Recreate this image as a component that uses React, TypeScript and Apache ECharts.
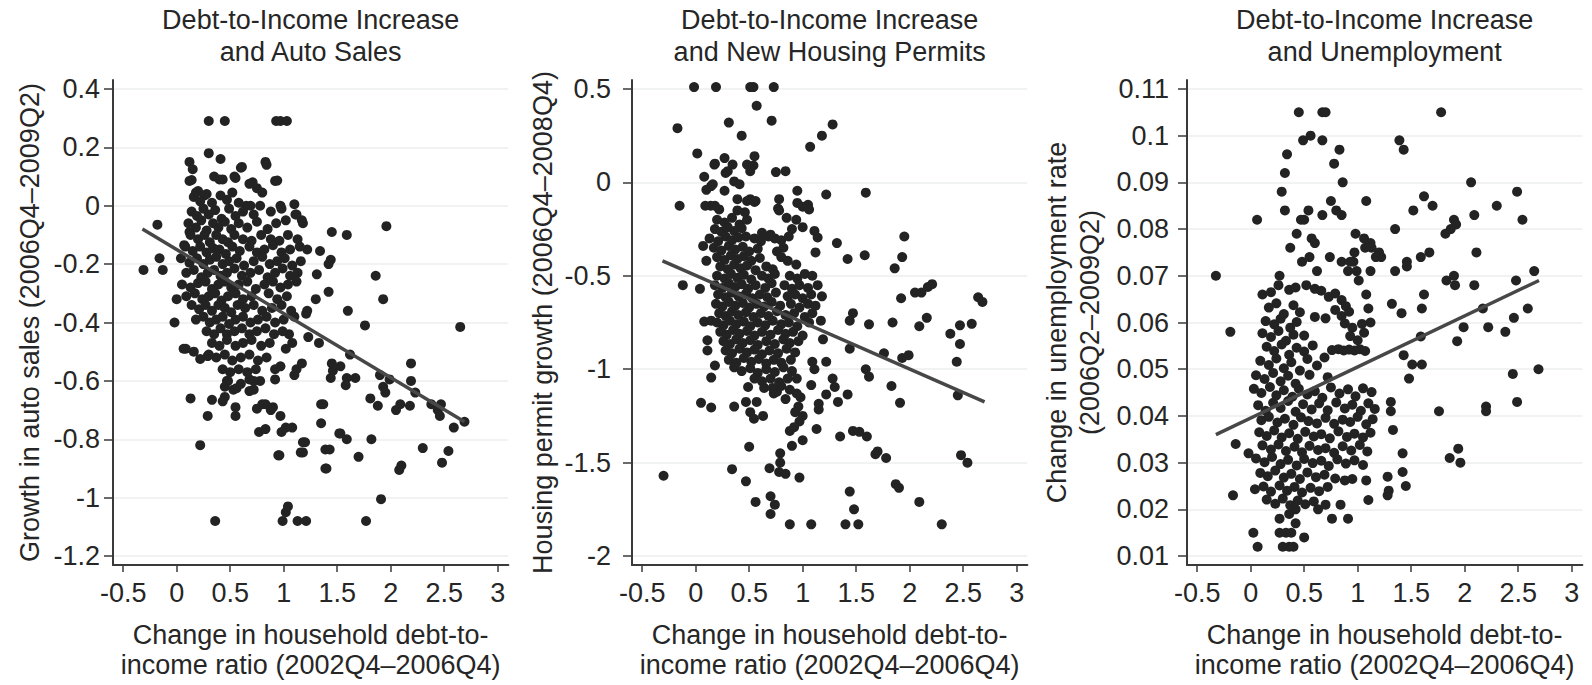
import React, { useEffect, useRef } from "react";
import * as echarts from "echarts";

// ---------- DATA ----------
const xTicks = [-0.5, 0, 0.5, 1, 1.5, 2, 2.5, 3];
const autoSalesYTicks = [-1.2, -1, -0.8, -0.6, -0.4, -0.2, 0, 0.2, 0.4];
const housingYTicks = [-2, -1.5, -1, -0.5, 0, 0.5];
const unempYTicks = [0.01, 0.02, 0.03, 0.04, 0.05, 0.06, 0.07, 0.08, 0.09, 0.1, 0.11];

const titles = [
  "Debt-to-Income Increase\nand Auto Sales",
  "Debt-to-Income Increase\nand New Housing Permits",
  "Debt-to-Income Increase\nand Unemployment",
];
const xName = "Change in household debt-to-\nincome ratio (2002Q4–2006Q4)";
const yNames = [
  "Growth in auto sales (2006Q4–2009Q2)",
  "Housing permit growth (2006Q4–2008Q4)",
  "Change in unemployment rate\n(2006Q2–2009Q2)",
];

// fitted regression lines (endpoints)
const autoSalesFit = [[-0.32, -0.08], [2.69, -0.74]];
const housingFit = [[-0.31, -0.42], [2.7, -1.175]];
const unempFit = [[-0.325, 0.036], [2.695, 0.069]];

const autoSalesPoints = [
  [-0.31,-0.22],[-0.18,-0.065],[-0.16,-0.18],[-0.13,-0.22],[0.0,-0.32],[-0.02,-0.40],[0.065,-0.49],[0.13,-0.66],[0.22,-0.82],[0.36,-1.08],
  [0.30,0.29],[0.45,0.29],[0.93,0.29],[0.97,0.29],[1.03,0.29],
  [0.30,0.18],[0.41,0.16],[0.60,0.13],[0.83,0.15],[0.84,0.14],[0.92,0.085],
  [0.12,0.15],[0.15,0.125],[0.12,0.085],[0.54,0.10],[0.35,0.10],[0.40,0.09],[0.68,0.075],[0.75,0.06],[0.80,0.045],[0.18,0.045],[0.26,0.035],
  [0.65,0.0],[0.78,0.0],[0.97,0.0],[1.10,0.005],[1.11,-0.03],[1.17,-0.05],
  [1.45,-0.09],[1.59,-0.10],[1.96,-0.07],
  [1.22,-0.15],[1.34,-0.155],[1.44,-0.185],[1.42,-0.20],[1.31,-0.235],[1.42,-0.295],[1.30,-0.32],[1.86,-0.24],[1.93,-0.32],[1.60,-0.36],[1.76,-0.41],[2.65,-0.415],
  [1.21,-0.37],[1.23,-0.45],[1.33,-0.47],[1.62,-0.51],[1.45,-0.54],[1.53,-0.55],[1.46,-0.565],[1.44,-0.59],[1.59,-0.59],[1.67,-0.59],[1.58,-0.615],
  [1.90,-0.58],[1.93,-0.62],[1.95,-0.64],[1.99,-0.595],[2.19,-0.54],[2.19,-0.60],[2.23,-0.64],[2.09,-0.68],[2.18,-0.685],[2.05,-0.70],[1.81,-0.66],[1.88,-0.685],
  [2.38,-0.68],[2.47,-0.68],[2.46,-0.72],[2.44,-0.70],[2.59,-0.76],[2.69,-0.74],[2.30,-0.83],[2.54,-0.84],[2.48,-0.88],[2.08,-0.905],[2.10,-0.89],[1.91,-1.005],[1.77,-1.08],
  [1.82,-0.80],[1.70,-0.86],[1.52,-0.78],[1.59,-0.80],[1.35,-0.68],[1.35,-0.745],[1.39,-0.835],[1.39,-0.90],[1.18,-0.81],[1.16,-0.845],[1.02,-0.76],[1.08,-0.76],[0.95,-0.855],
  [1.02,-1.05],[0.99,-1.08],[1.13,-1.08],[1.21,-1.08],
  [0.90,-0.69],[0.97,-0.72],[0.83,-0.68],[0.75,-0.695],[0.77,-0.775],[0.83,-0.765],[0.55,-0.69],[0.55,-0.72],[0.33,-0.665],[0.29,-0.72],[0.45,-0.655],[0.43,-0.67],[0.53,-0.63],[0.68,-0.635],[0.72,-0.63],[0.68,-0.595],[0.78,-0.60],
  [1.10,-0.58],[1.12,-0.56],[1.17,-0.54],[0.92,-0.595],[0.92,-0.56],[0.97,-0.55],[1.02,-0.49],[1.05,-0.44],[1.08,-0.47],
  [0.085,-0.49],[0.16,-0.50],[0.22,-0.525],[0.29,-0.515],[0.45,-0.62],[0.47,-0.60],[0.56,-0.625],[0.72,-0.60],[0.80,-0.68],[0.88,-0.70],[0.98,-0.775],[1.20,-0.81],[1.18,-0.845],[0.96,-0.855],[1.37,-0.68],[1.53,-0.78],[1.43,-0.835],[1.40,-0.90],[1.04,-1.03],
  [0.14,0.088],[0.61,0.133],[0.94,0.086],[0.43,0.09],[0.55,0.095],[0.71,0.08],[0.20,0.05],[0.69,0.0],[0.98,-0.01],[1.12,-0.03],[1.18,-0.06],[0.12,-0.09],[0.07,-0.135],[1.22,-0.36],
  [0.16,0.03],[0.22,0.015],[0.28,0.04],[0.33,0.01],[0.41,0.035],[0.47,0.02],[0.52,0.045],[0.58,0.01],
  [0.14,-0.02],[0.19,-0.035],[0.25,-0.01],[0.30,-0.03],[0.36,-0.015],[0.42,-0.045],[0.49,-0.01],[0.55,-0.035],[0.62,-0.02],[0.72,-0.03],[0.88,-0.02],
  [0.11,-0.06],[0.18,-0.075],[0.23,-0.05],[0.28,-0.085],[0.34,-0.06],[0.39,-0.075],[0.45,-0.055],[0.51,-0.08],[0.58,-0.06],[0.66,-0.075],[0.75,-0.055],[0.85,-0.08],[0.93,-0.06],[1.02,-0.05],
  [0.13,-0.10],[0.20,-0.115],[0.26,-0.10],[0.31,-0.125],[0.37,-0.10],[0.43,-0.115],[0.48,-0.125],[0.54,-0.10],[0.62,-0.115],[0.70,-0.12],[0.79,-0.10],[0.88,-0.115],[0.96,-0.12],[1.04,-0.10],[1.13,-0.115],
  [0.08,-0.14],[0.15,-0.155],[0.22,-0.14],[0.28,-0.16],[0.34,-0.145],[0.40,-0.15],[0.46,-0.165],[0.52,-0.14],[0.59,-0.155],[0.68,-0.14],[0.75,-0.16],[0.82,-0.15],[0.90,-0.135],[0.98,-0.16],[1.06,-0.15],[1.15,-0.14],
  [0.04,-0.18],[0.12,-0.195],[0.19,-0.18],[0.25,-0.20],[0.31,-0.185],[0.37,-0.175],[0.43,-0.20],[0.49,-0.19],[0.56,-0.18],[0.63,-0.205],[0.72,-0.19],[0.80,-0.175],[0.87,-0.20],[0.94,-0.19],[1.01,-0.18],[1.08,-0.205],[1.16,-0.19],
  [0.09,-0.23],[0.16,-0.22],[0.23,-0.245],[0.29,-0.23],[0.35,-0.22],[0.41,-0.24],[0.47,-0.23],[0.54,-0.215],[0.61,-0.24],[0.69,-0.23],[0.77,-0.22],[0.85,-0.245],[0.92,-0.23],[0.99,-0.215],[1.06,-0.24],[1.13,-0.23],
  [0.05,-0.27],[0.13,-0.28],[0.20,-0.265],[0.27,-0.26],[0.33,-0.285],[0.39,-0.27],[0.45,-0.26],[0.51,-0.28],[0.58,-0.27],[0.66,-0.26],[0.74,-0.285],[0.82,-0.27],[0.90,-0.26],[0.97,-0.28],[1.04,-0.27],[1.12,-0.26],
  [0.09,-0.31],[0.17,-0.30],[0.24,-0.32],[0.30,-0.31],[0.36,-0.30],[0.42,-0.325],[0.48,-0.31],[0.55,-0.30],[0.62,-0.32],[0.70,-0.31],[0.86,-0.30],[0.94,-0.32],[1.03,-0.31],
  [0.14,-0.34],[0.21,-0.355],[0.27,-0.34],[0.33,-0.36],[0.39,-0.34],[0.45,-0.35],[0.51,-0.365],[0.57,-0.34],[0.64,-0.35],[0.72,-0.34],[0.80,-0.36],[0.89,-0.35],[0.98,-0.34],[1.07,-0.36],
  [0.18,-0.39],[0.25,-0.38],[0.31,-0.40],[0.37,-0.39],[0.43,-0.38],[0.49,-0.405],[0.55,-0.39],[0.62,-0.38],[0.69,-0.40],[0.76,-0.39],[0.84,-0.38],[0.92,-0.40],[1.00,-0.39],[1.10,-0.38],
  [0.28,-0.43],[0.35,-0.44],[0.41,-0.42],[0.47,-0.44],[0.54,-0.43],[0.61,-0.42],[0.68,-0.44],[0.75,-0.43],[0.83,-0.42],[0.91,-0.44],[0.99,-0.43],
  [0.33,-0.47],[0.40,-0.48],[0.47,-0.46],[0.55,-0.48],[0.62,-0.47],[0.70,-0.46],[0.79,-0.48],[0.87,-0.47],
  [0.30,-0.51],[0.37,-0.52],[0.45,-0.51],[0.52,-0.53],[0.60,-0.52],[0.68,-0.51],[0.76,-0.53],[0.84,-0.52],
  [0.43,-0.56],[0.50,-0.57],[0.58,-0.56],[0.66,-0.57],[0.74,-0.56],
  [0.48,-0.60],[0.60,-0.61],
];

const housingPoints = [
  [-0.015,0.51],[0.19,0.51],[0.51,0.51],[0.54,0.51],[0.73,0.51],[0.57,0.41],[-0.17,0.29],[0.31,0.32],[0.71,0.33],[1.28,0.31],[1.18,0.25],[1.07,0.19],[0.43,0.25],[0.015,0.155],[0.27,0.13],[0.175,0.095],[0.345,0.095],[0.55,0.14],[0.48,0.095],[0.54,0.09],[0.75,0.055],[0.84,0.06],[0.08,0.03],[0.28,0.05],[0.36,0.005],[0.41,-0.01],[0.145,-0.02],[0.10,-0.04],[0.27,-0.045],[-0.15,-0.125],[0.14,-0.125],[0.22,-0.145],[0.39,-0.09],[0.48,-0.10],[0.55,-0.105],[0.39,-0.15],[0.46,-0.16],
  [0.18,0.10],[0.30,0.06],[0.51,0.06],[0.16,-0.01],[0.09,-0.125],[0.18,-0.125],[0.51,-0.09],[0.56,-0.10],[0.77,-0.14],[1.0,-0.13],
  [0.95,-0.045],[1.22,-0.065],[1.59,-0.055],[0.78,-0.09],[0.78,-0.15],[0.95,-0.11],[1.05,-0.12],[1.06,-0.145],[0.85,-0.19],[0.94,-0.20],[1.0,-0.24],[1.11,-0.26],[1.14,-0.295],[1.32,-0.325],[1.42,-0.41],[1.58,-0.39],[1.12,-0.375],
  [1.95,-0.29],[1.93,-0.40],[1.86,-0.46],[1.92,-0.62],[2.05,-0.59],[2.11,-0.59],[2.17,-0.56],[2.21,-0.545],[2.64,-0.615],[2.68,-0.64],[2.16,-0.725],[2.09,-0.77],[1.84,-0.75],[1.62,-0.76],[1.44,-0.74],[1.47,-0.70],[1.44,-0.89],[1.76,-0.915],[1.93,-0.94],[1.99,-0.925],[1.59,-1.0],[1.62,-1.04],[1.83,-1.09],[1.91,-1.18],
  [2.38,-0.81],[2.47,-0.765],[2.58,-0.757],[2.47,-0.865],[2.44,-0.96],[2.45,-1.14],[2.48,-1.46],[2.54,-1.50],[2.30,-1.83],[2.09,-1.71],[1.87,-1.615],[1.90,-1.635],[1.68,-1.455],[1.78,-1.475],[1.70,-1.44],[1.53,-1.335],[1.60,-1.36],[1.47,-1.33],[1.35,-1.36],[1.44,-1.655],[1.48,-1.75],[1.40,-1.83],[1.52,-1.83],[1.08,-1.83],[0.88,-1.83],[0.97,-1.58],[0.84,-1.56],[0.78,-1.55],[0.79,-1.45],[0.79,-1.50],[0.69,-1.53],[0.70,-1.68],[0.74,-1.725],[0.70,-1.775],[0.56,-1.71],[0.47,-1.60],[0.34,-1.535],[0.50,-1.415],[-0.30,-1.57],
  [-0.12,-0.55],[0.04,-0.57],[0.07,-0.34],[0.10,-0.42],[0.08,-0.745],[0.145,-0.74],[0.11,-0.845],[0.11,-0.90],[0.18,-0.98],[0.145,-1.045],[0.05,-1.18],[0.145,-1.205],[0.36,-1.2],[0.47,-1.175],[0.57,-1.175],[0.49,-1.095],[0.51,-1.23],[0.545,-1.265],[0.63,-1.25],[0.64,-1.10],[0.76,-1.12],[0.84,-1.16],[0.73,-1.13],
  [0.98,-1.15],[0.96,-1.2],[0.93,-1.23],[1.0,-1.25],[0.97,-1.28],[0.88,-1.33],[0.92,-1.31],[0.90,-1.41],[1.0,-1.38],[1.13,-1.32],[1.15,-1.185],[1.15,-1.215],[1.22,-1.135],[1.33,-1.175],[1.42,-1.135],[1.28,-1.05],[1.30,-1.095],[1.22,-0.96],[1.19,-0.84],[1.17,-0.74],[1.09,-0.96],[1.11,-1.0],[1.08,-1.085],[0.945,-1.05],[0.945,-1.13],
  [0.20,-0.20],[0.27,-0.215],[0.34,-0.19],[0.41,-0.225],[0.48,-0.20],
  [0.18,-0.25],[0.24,-0.265],[0.30,-0.24],[0.36,-0.26],[0.43,-0.245],[0.62,-0.27],[0.70,-0.28],[0.90,-0.25],
  [0.13,-0.30],[0.21,-0.315],[0.28,-0.29],[0.34,-0.31],[0.40,-0.295],[0.47,-0.29],[0.55,-0.30],[0.61,-0.315],[0.68,-0.29],[0.74,-0.30],[0.80,-0.31],[0.87,-0.29],
  [0.17,-0.35],[0.24,-0.365],[0.31,-0.34],[0.37,-0.36],[0.44,-0.345],[0.50,-0.37],[0.58,-0.355],[0.76,-0.37],[0.82,-0.35],
  [0.20,-0.40],[0.27,-0.415],[0.33,-0.39],[0.39,-0.41],[0.45,-0.395],[0.52,-0.42],[0.60,-0.405],[0.80,-0.40],[0.86,-0.42],
  [0.23,-0.45],[0.30,-0.465],[0.36,-0.44],[0.42,-0.46],[0.48,-0.445],[0.56,-0.47],[0.66,-0.45],[0.72,-0.465],[0.94,-0.44],
  [0.20,-0.50],[0.27,-0.515],[0.33,-0.49],[0.39,-0.51],[0.45,-0.495],[0.52,-0.52],[0.62,-0.50],[0.68,-0.515],[0.74,-0.49],[0.88,-0.50],[0.95,-0.515],[1.02,-0.49],[1.09,-0.50],
  [0.18,-0.55],[0.25,-0.565],[0.31,-0.54],[0.37,-0.56],[0.43,-0.545],[0.49,-0.57],[0.56,-0.55],[0.65,-0.565],[0.71,-0.54],[0.83,-0.55],[0.90,-0.57],[0.97,-0.55],[1.05,-0.565],[1.14,-0.55],
  [0.21,-0.60],[0.28,-0.615],[0.34,-0.59],[0.40,-0.61],[0.47,-0.595],[0.53,-0.62],[0.60,-0.60],[0.67,-0.615],[0.75,-0.59],[0.86,-0.61],[0.93,-0.60],[1.00,-0.62],[1.08,-0.60],[1.18,-0.61],
  [0.19,-0.65],[0.25,-0.665],[0.31,-0.64],[0.37,-0.66],[0.44,-0.645],[0.50,-0.67],[0.57,-0.65],[0.64,-0.665],[0.71,-0.64],[0.79,-0.66],[0.89,-0.65],[0.97,-0.67],[1.05,-0.65],[1.12,-0.66],
  [0.22,-0.70],[0.28,-0.715],[0.34,-0.69],[0.40,-0.71],[0.47,-0.695],[0.54,-0.72],[0.61,-0.70],[0.68,-0.715],[0.76,-0.69],[0.84,-0.71],[0.92,-0.70],[1.02,-0.72],[1.09,-0.70],
  [0.20,-0.75],[0.26,-0.765],[0.32,-0.74],[0.38,-0.76],[0.45,-0.745],[0.51,-0.77],[0.58,-0.75],[0.65,-0.765],[0.72,-0.74],[0.80,-0.76],[0.87,-0.75],[0.95,-0.77],[1.06,-0.75],
  [0.23,-0.80],[0.29,-0.815],[0.35,-0.79],[0.41,-0.81],[0.48,-0.795],[0.55,-0.82],[0.62,-0.80],[0.70,-0.815],[0.77,-0.79],[0.84,-0.81],[0.91,-0.80],[1.00,-0.82],
  [0.26,-0.85],[0.32,-0.865],[0.38,-0.84],[0.44,-0.86],[0.51,-0.845],[0.58,-0.87],[0.66,-0.85],[0.74,-0.865],[0.82,-0.84],[0.88,-0.86],[0.96,-0.85],
  [0.28,-0.90],[0.34,-0.915],[0.41,-0.89],[0.48,-0.91],[0.55,-0.895],[0.62,-0.92],[0.69,-0.90],[0.77,-0.915],[0.85,-0.89],[0.93,-0.91],
  [0.31,-0.95],[0.38,-0.965],[0.45,-0.94],[0.52,-0.96],[0.59,-0.945],[0.66,-0.97],[0.73,-0.95],[0.80,-0.965],[0.89,-0.95],
  [0.36,-0.99],[0.43,-1.01],[0.51,-0.995],[0.58,-1.02],[0.66,-1.00],[0.74,-1.015],[0.82,-0.99],[0.90,-1.01],
  [0.55,-1.05],[0.62,-1.065],[0.70,-1.05],[0.78,-1.07],[0.86,-1.05],
  [0.72,-1.10],[0.80,-1.09],[0.88,-1.11],
];

const unempPoints = [
  [-0.325,0.070],[-0.19,0.058],[-0.14,0.034],[-0.165,0.023],[-0.02,0.032],[0.06,0.082],[0.025,0.015],[0.065,0.012],[0.30,0.012],[0.36,0.012],[0.40,0.012],[0.27,0.015],[0.33,0.015],[0.38,0.015],[0.50,0.014],[0.42,0.017],[0.27,0.018],[0.36,0.019],[0.42,0.020],
  [0.45,0.105],[0.67,0.105],[0.70,0.105],[1.78,0.105],[0.49,0.099],[0.56,0.10],[0.67,0.099],[0.83,0.097],[0.34,0.096],[0.78,0.094],[0.32,0.092],[0.86,0.09],[0.29,0.088],[0.32,0.084],[0.75,0.086],[0.80,0.084],[0.85,0.083],[0.67,0.083],[0.54,0.084],[0.50,0.082],[0.47,0.082],[1.08,0.086],[1.39,0.099],[1.43,0.097],[2.06,0.09],[2.49,0.088],[2.54,0.082],[2.30,0.085],[2.09,0.083],[1.62,0.087],[1.70,0.085],[1.52,0.084],[1.90,0.082],[1.92,0.081],[1.87,0.080],[1.82,0.079],[1.35,0.08],[1.59,0.074],[1.67,0.075],[2.11,0.075],[1.46,0.073],[1.46,0.072],[1.35,0.071],[1.83,0.069],[1.90,0.07],[1.91,0.068],[2.09,0.068],[2.48,0.069],[2.65,0.071],[1.62,0.066],[1.60,0.063],[1.32,0.064],[1.41,0.062],[2.17,0.063],[2.59,0.063],[1.99,0.059],[2.22,0.059],[2.38,0.058],[2.46,0.061],[1.59,0.057],[1.93,0.056],[1.43,0.053],[1.51,0.051],[1.60,0.051],[1.48,0.048],[2.45,0.049],[2.69,0.05],[1.76,0.041],[2.20,0.042],[2.20,0.041],[2.49,0.043],[1.33,0.037],[1.31,0.043],[1.31,0.041],[1.86,0.031],[1.94,0.033],[1.96,0.030],[1.42,0.032],[1.42,0.028],[1.45,0.025],[1.28,0.027],[1.29,0.024],[1.28,0.023],[1.10,0.022],[0.91,0.018],[0.76,0.018],[0.63,0.020],[0.70,0.021],[0.84,0.021],
  [1.08,0.066],[1.10,0.063],[1.12,0.06],[0.98,0.079],[1.06,0.078],[1.12,0.077],[1.13,0.076],[1.07,0.076],[1.12,0.071],[1.01,0.069],[0.99,0.071],[0.96,0.073],[0.91,0.071],[0.93,0.073],[0.97,0.075],[1.20,0.075],[1.22,0.074],[1.17,0.074],[0.85,0.073],[0.74,0.074],[0.62,0.071],[0.48,0.073],[0.55,0.074],[0.37,0.076],[0.43,0.079],[0.57,0.078],[0.60,0.077],[0.27,0.07],
  [0.11,0.066],[0.19,0.0665],[0.26,0.068],[0.36,0.067],[0.42,0.0675],[0.52,0.068],[0.60,0.0672],[0.66,0.0668],[0.73,0.0655],[0.79,0.0662],[0.85,0.0648],[0.89,0.0635],
  [0.17,0.0632],[0.24,0.0641],[0.31,0.0618],[0.40,0.0637],[0.46,0.0622],
  [0.14,0.0603],[0.22,0.0596],[0.28,0.0608],[0.37,0.0589],[0.43,0.0601],
  [0.11,0.0577],[0.19,0.0569],[0.26,0.0582],[0.33,0.0561],[0.40,0.0574],
  [0.15,0.0548],[0.22,0.0539],[0.29,0.0553],[0.36,0.0531],[0.43,0.0546],[0.50,0.0538],
  [0.09,0.0518],[0.17,0.0509],[0.24,0.0523],[0.31,0.0502],[0.38,0.0515],[0.46,0.0497],
  [0.05,0.0487],[0.13,0.0479],[0.21,0.0492],[0.28,0.0474],[0.35,0.0486],[0.42,0.0469],
  [0.79,0.0627],[0.85,0.0614],[0.92,0.0623],[0.88,0.0598],[0.95,0.0589],[1.04,0.0597],[0.93,0.0571],[1.00,0.0562],[1.06,0.0578],
  [0.76,0.0541],[0.82,0.0543],[0.87,0.0540],[0.92,0.0542],[0.97,0.0540],[1.02,0.0543],[1.07,0.0539],
  [0.60,0.0612],[0.70,0.0609],[0.50,0.0572],[0.58,0.0551],[0.53,0.0522],[0.62,0.0508],[0.69,0.0525],[0.72,0.0483],[0.55,0.0488],
  [0.03,0.0458],[0.10,0.0449],[0.18,0.0462],[0.24,0.0444],[0.31,0.0455],[0.39,0.0441],[0.45,0.0458],[0.53,0.0446],[0.60,0.0453],[0.67,0.0439],[0.75,0.0461],[0.83,0.0448],[0.91,0.0457],[0.98,0.0442],[1.05,0.0459],[1.13,0.0451],
  [0.07,0.0423],[0.14,0.0411],[0.21,0.0428],[0.28,0.0417],[0.35,0.0432],[0.42,0.0409],[0.49,0.0425],[0.57,0.0414],[0.64,0.0427],[0.72,0.0412],[0.80,0.0429],[0.88,0.0416],[0.95,0.0424],[1.03,0.0411],[1.10,0.0427],[1.16,0.0415],
  [0.10,0.0391],[0.17,0.0398],[0.25,0.0386],[0.32,0.0394],[0.40,0.0381],[0.47,0.0397],[0.54,0.0389],[0.62,0.0384],[0.70,0.0396],[0.78,0.0383],[0.86,0.0392],[0.93,0.0387],[1.00,0.0398],[1.08,0.0382],[1.14,0.0393],
  [0.08,0.0365],[0.15,0.0357],[0.22,0.0369],[0.29,0.0354],[0.36,0.0363],[0.44,0.0351],[0.51,0.0366],[0.59,0.0356],[0.66,0.0361],[0.74,0.0352],[0.82,0.0367],[0.90,0.0355],[0.97,0.0362],[1.05,0.0354],[1.12,0.0364],
  [0.11,0.0337],[0.19,0.0328],[0.26,0.0339],[0.33,0.0325],[0.41,0.0334],[0.48,0.0322],[0.55,0.0336],[0.63,0.0327],[0.70,0.0331],[0.78,0.0321],[0.86,0.0335],[0.94,0.0326],[1.02,0.0338],[1.09,0.0324],
  [0.05,0.0309],[0.13,0.0301],[0.20,0.0312],[0.28,0.0297],[0.35,0.0306],[0.43,0.0294],[0.50,0.0308],[0.58,0.0299],[0.66,0.0304],[0.73,0.0293],[0.81,0.0307],[0.89,0.0298],[0.97,0.0305],[1.05,0.0295],
  [0.09,0.0278],[0.16,0.0271],[0.23,0.0283],[0.31,0.0268],[0.38,0.0276],[0.46,0.0265],[0.53,0.0279],[0.61,0.0269],[0.69,0.0274],[0.79,0.0266],[0.88,0.0262],[0.95,0.0265],[1.08,0.0262],
  [0.04,0.0243],[0.12,0.0249],[0.19,0.0238],[0.27,0.0251],[0.34,0.0240],[0.41,0.0248],[0.48,0.0236],[0.56,0.0246],[0.64,0.0239],[0.72,0.0248],
  [0.15,0.0221],[0.23,0.0212],[0.30,0.0223],[0.37,0.0209],[0.44,0.0219],[0.51,0.0211],[0.59,0.0217],
];

// ---------- LAYOUT / STYLE ----------
const FONT = "'Liberation Sans', Arial, Helvetica, sans-serif";
const FS = 27;
const TEXT = "#262626";
const AXIS = "#3a3a3a";
const X_MIN = -0.595;
const X_MAX = 3.1;
const PX_PER_X = 107;
const GRID_W = (X_MAX - X_MIN) * PX_PER_X;
const GRID_TOP = 80;
const GRID_H = 489;
const PAD = 9; // px between outer ticks and axis ends

const panelLayout = [
  { left: 113, yNameGap: 68, yNameLH: 30, yLabelMargin: 13 },
  { left: 632, yNameGap: 74, yNameLH: 30, yLabelMargin: 21 },
  { left: 1187, yNameGap: 81, yNameLH: 33, yLabelMargin: 18 },
];

const panelData = [
  { pts: autoSalesPoints, fit: autoSalesFit, yTicks: autoSalesYTicks },
  { pts: housingPoints, fit: housingFit, yTicks: housingYTicks },
  { pts: unempPoints, fit: unempFit, yTicks: unempYTicks },
];

function yRange(ticks: number[]) {
  const lo = Math.min(...ticks);
  const hi = Math.max(...ticks);
  const perPx = (hi - lo) / (GRID_H - 2 * PAD);
  return { min: lo - PAD * perPx, max: hi + PAD * perPx };
}

function fmt(v: number) {
  return String(Math.round(v * 1000) / 1000);
}

function buildOption() {
  const grid: any[] = [];
  const xAxis: any[] = [];
  const yAxis: any[] = [];
  const series: any[] = [];
  const graphic: any[] = [];
  const textStyle = { fontFamily: FONT, fontSize: FS, color: TEXT };

  panelData.forEach((p, i) => {
    const L = panelLayout[i];
    const yr = yRange(p.yTicks);
    grid.push({ left: L.left, top: GRID_TOP, width: GRID_W, height: GRID_H, containLabel: false });
    xAxis.push({
      gridIndex: i,
      type: "value",
      min: X_MIN,
      max: X_MAX,
      axisLine: { show: true, onZero: false, lineStyle: { color: AXIS, width: 2 } },
      axisTick: { show: true, customValues: xTicks, length: 7, lineStyle: { color: AXIS, width: 1.5 } },
      axisLabel: { customValues: xTicks, formatter: (v: number) => fmt(v), margin: 14, ...textStyle },
      splitLine: { show: false },
      name: xName,
      nameLocation: "middle",
      nameGap: 55,
      nameTextStyle: { ...textStyle, lineHeight: 30 },
    });
    yAxis.push({
      gridIndex: i,
      type: "value",
      min: yr.min,
      max: yr.max,
      axisLine: { show: true, onZero: false, lineStyle: { color: AXIS, width: 2 } },
      axisTick: { show: true, customValues: p.yTicks, length: 9, lineStyle: { color: AXIS, width: 1.5 } },
      axisLabel: { customValues: p.yTicks, formatter: (v: number) => fmt(v), margin: L.yLabelMargin, ...textStyle },
      splitLine: { show: true, lineStyle: { color: "#eceeee", width: 1.5 } },
      name: yNames[i],
      nameLocation: "middle",
      nameGap: L.yNameGap,
      nameTextStyle: { ...textStyle, lineHeight: L.yNameLH },
    });
    series.push({
      type: "scatter",
      xAxisIndex: i,
      yAxisIndex: i,
      data: p.pts,
      symbol: "circle",
      symbolSize: 10,
      itemStyle: { color: "#232323", opacity: 1 },
      z: 2,
    });
    series.push({
      type: "line",
      xAxisIndex: i,
      yAxisIndex: i,
      data: p.fit,
      symbol: "none",
      showSymbol: false,
      lineStyle: { color: "#474747", width: 3.5 },
      z: 3,
    });
    graphic.push({
      type: "text",
      x: L.left + GRID_W / 2,
      y: 36,
      style: {
        text: titles[i],
        textAlign: "center",
        textVerticalAlign: "middle",
        fontFamily: FONT,
        fontSize: FS,
        lineHeight: 32,
        fill: TEXT,
      },
    });
  });

  return {
    animation: false,
    backgroundColor: "#ffffff",
    grid,
    xAxis,
    yAxis,
    series,
    graphic,
  };
}

export default function App() {
  const ref = useRef<HTMLDivElement>(null);
  useEffect(() => {
    if (!ref.current) return;
    const chart = echarts.init(ref.current, null, { renderer: "svg" });
    chart.setOption(buildOption() as any);
    return () => chart.dispose();
  }, []);
  return (
    <div
      ref={ref}
      style={{ position: "fixed", left: 0, top: 0, width: 1592, height: 685, background: "#fff" }}
    />
  );
}
